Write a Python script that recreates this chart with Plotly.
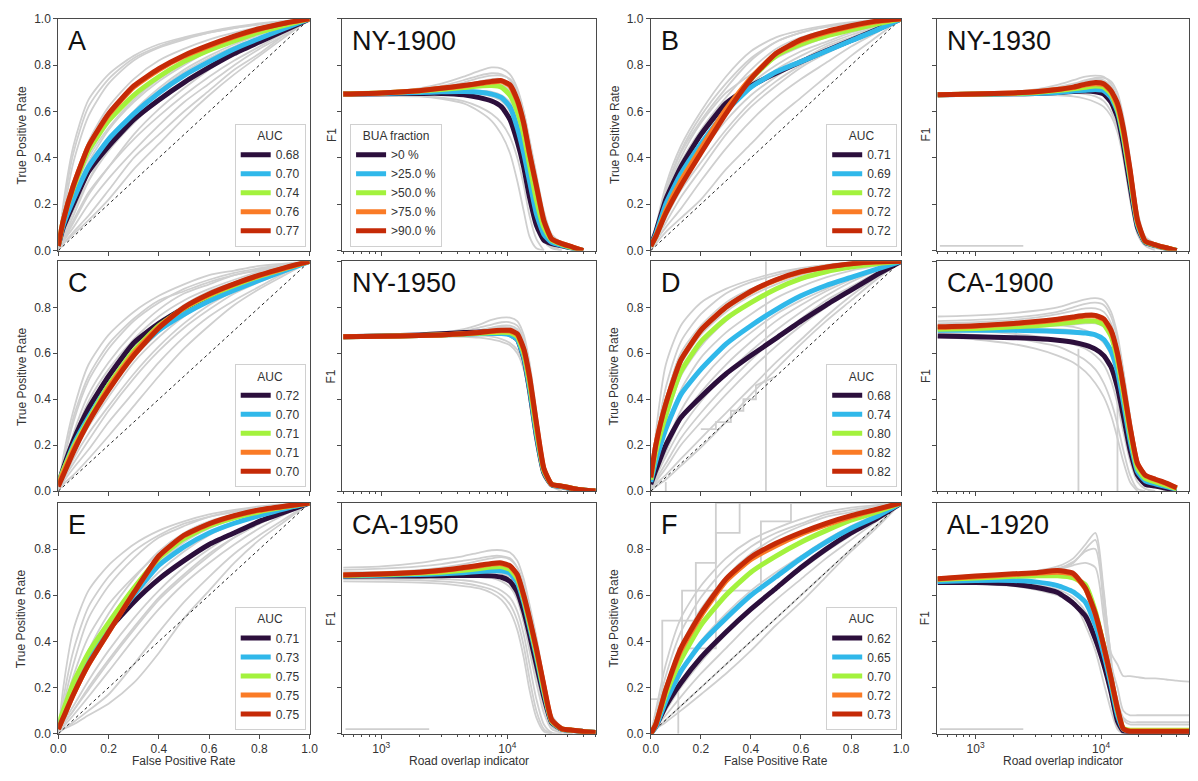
import plotly.graph_objects as go

W, H = 1198, 781

# ---------------- shared grids / labels ----------------
ROC_FPR = [0, 0.02, 0.06, 0.12, 0.2, 0.3, 0.4, 0.5, 0.6, 0.7, 0.8, 0.9, 1.0]
F1_X = [500, 1000, 2000, 3000, 4500, 6000, 7500, 9000, 10500, 12000, 13500,
        15000, 17000, 19500, 22500, 27000, 33000, 40000, 52000]
DIAG = [0, 1]
BUA_LABELS = [">0 %", ">25.0 %", ">50.0 %", ">75.0 %", ">90.0 %"]
SERIES_COLORS = ["#2c0f3c", "#30b8ea", "#a3f23d", "#fa7b26", "#c52a07"]
GREY = "#cfcfcf"
ROC_XTICKS = [0, 0.2, 0.4, 0.6, 0.8, 1.0]
F1_MAJOR = [1000, 10000]
F1_MAJOR_TEXT = ["10<sup>3</sup>", "10<sup>4</sup>"]
F1_MINOR = [500, 600, 700, 800, 900, 2000, 3000, 4000, 5000, 6000, 7000, 8000, 9000,
            20000, 30000, 40000, 50000]
ART_X = [520, 2400]
ART_Y = [0.02, 0.02]

# ---------------- Panel A (ROC) ----------------
A_AUC = ["0.68", "0.70", "0.74", "0.76", "0.77"]
A_PURPLE = [0.02, 0.1, 0.2, 0.34, 0.45, 0.565, 0.65, 0.725, 0.79, 0.85, 0.9, 0.95, 1.0]
A_CYAN = [0.02, 0.11, 0.22, 0.36, 0.48, 0.59, 0.68, 0.755, 0.815, 0.87, 0.915, 0.958, 1.0]
A_LIME = [0.02, 0.13, 0.27, 0.43, 0.56, 0.67, 0.75, 0.815, 0.865, 0.905, 0.942, 0.972, 1.0]
A_ORANGE = [0.02, 0.13, 0.28, 0.45, 0.585, 0.705, 0.78, 0.838, 0.882, 0.922, 0.955, 0.98, 1.0]
A_RED = [0.02, 0.13, 0.28, 0.45, 0.59, 0.71, 0.785, 0.842, 0.886, 0.925, 0.957, 0.981, 1.0]
A_GREY = [
    [0, 0.2, 0.45, 0.65, 0.76, 0.84, 0.89, 0.92, 0.945, 0.965, 0.98, 0.99, 1.0],
    [0, 0.15, 0.38, 0.58, 0.72, 0.82, 0.875, 0.91, 0.94, 0.96, 0.975, 0.99, 1.0],
    [0, 0.1, 0.28, 0.47, 0.62, 0.74, 0.82, 0.87, 0.91, 0.94, 0.965, 0.985, 1.0],
    [0, 0.08, 0.22, 0.38, 0.52, 0.64, 0.73, 0.8, 0.86, 0.9, 0.94, 0.97, 1.0],
    [0, 0.06, 0.17, 0.3, 0.43, 0.55, 0.65, 0.73, 0.8, 0.86, 0.91, 0.96, 1.0],
    [0, 0.05, 0.13, 0.25, 0.36, 0.48, 0.58, 0.67, 0.75, 0.82, 0.88, 0.94, 1.0],
    [0, 0.04, 0.1, 0.2, 0.31, 0.43, 0.54, 0.64, 0.72, 0.8, 0.87, 0.93, 1.0],
    [0, 0.03, 0.08, 0.15, 0.26, 0.4, 0.5, 0.6, 0.69, 0.78, 0.85, 0.93, 1.0],
    [0, 0.03, 0.07, 0.13, 0.22, 0.35, 0.46, 0.57, 0.67, 0.76, 0.84, 0.92, 1.0],
    [0, 0.05, 0.15, 0.3, 0.46, 0.6, 0.7, 0.78, 0.84, 0.89, 0.93, 0.97, 1.0],
    [0, 0.07, 0.19, 0.34, 0.47, 0.59, 0.69, 0.77, 0.83, 0.88, 0.92, 0.96, 1.0],
    [0, 0.09, 0.24, 0.4, 0.53, 0.65, 0.74, 0.81, 0.87, 0.91, 0.95, 0.975, 1.0],
    [0, 0.04, 0.12, 0.24, 0.36, 0.5, 0.61, 0.7, 0.78, 0.85, 0.9, 0.95, 1.0],
    [0, 0.18, 0.42, 0.62, 0.74, 0.83, 0.88, 0.915, 0.94, 0.96, 0.978, 0.99, 1.0],
]

# ---------------- Panel B (ROC) ----------------
B_AUC = ["0.71", "0.69", "0.72", "0.72", "0.72"]
B_PURPLE = [0.02, 0.08, 0.22, 0.36, 0.5, 0.635, 0.71, 0.765, 0.815, 0.862, 0.907, 0.952, 1.0]
B_CYAN = [0.02, 0.07, 0.2, 0.33, 0.46, 0.6, 0.705, 0.77, 0.815, 0.86, 0.905, 0.95, 1.0]
B_LIME = [0.02, 0.06, 0.17, 0.3, 0.44, 0.6, 0.74, 0.84, 0.89, 0.925, 0.952, 0.977, 1.0]
B_ORANGE = [0.02, 0.06, 0.17, 0.3, 0.44, 0.61, 0.745, 0.85, 0.905, 0.94, 0.967, 0.987, 1.0]
B_RED = [0.02, 0.06, 0.16, 0.28, 0.42, 0.59, 0.74, 0.85, 0.91, 0.945, 0.97, 0.99, 1.0]
B_GREY = [
    [0, 0.1, 0.28, 0.45, 0.6, 0.75, 0.86, 0.92, 0.95, 0.97, 0.985, 0.995, 1.0],
    [0, 0.09, 0.25, 0.42, 0.56, 0.7, 0.82, 0.9, 0.94, 0.965, 0.98, 0.99, 1.0],
    [0, 0.08, 0.23, 0.38, 0.52, 0.66, 0.78, 0.87, 0.92, 0.95, 0.97, 0.985, 1.0],
    [0, 0.07, 0.2, 0.35, 0.49, 0.62, 0.72, 0.8, 0.86, 0.9, 0.94, 0.97, 1.0],
    [0, 0.06, 0.16, 0.29, 0.42, 0.56, 0.67, 0.75, 0.82, 0.88, 0.92, 0.96, 1.0],
    [0, 0.05, 0.12, 0.23, 0.35, 0.5, 0.62, 0.71, 0.79, 0.85, 0.9, 0.95, 1.0],
    [0, 0.04, 0.1, 0.18, 0.3, 0.44, 0.56, 0.66, 0.74, 0.81, 0.88, 0.94, 1.0],
    [0, 0.03, 0.08, 0.14, 0.22, 0.35, 0.46, 0.57, 0.66, 0.75, 0.84, 0.92, 1.0],
    [0, 0.08, 0.24, 0.4, 0.55, 0.68, 0.76, 0.83, 0.88, 0.92, 0.95, 0.98, 1.0],
    [0, 0.09, 0.26, 0.43, 0.58, 0.72, 0.83, 0.9, 0.94, 0.965, 0.98, 0.99, 1.0],
    [0, 0.06, 0.18, 0.32, 0.46, 0.6, 0.7, 0.78, 0.84, 0.89, 0.93, 0.965, 1.0],
    [0, 0.05, 0.14, 0.26, 0.38, 0.52, 0.64, 0.73, 0.8, 0.86, 0.91, 0.955, 1.0],
]

# ---------------- Panel C (ROC) ----------------
C_AUC = ["0.72", "0.70", "0.71", "0.71", "0.70"]
C_PURPLE = [0.03, 0.1, 0.22, 0.36, 0.5, 0.645, 0.73, 0.795, 0.847, 0.89, 0.93, 0.965, 1.0]
C_CYAN = [0.03, 0.09, 0.2, 0.32, 0.46, 0.6, 0.7, 0.77, 0.828, 0.875, 0.918, 0.96, 1.0]
C_LIME = [0.03, 0.09, 0.19, 0.31, 0.46, 0.61, 0.72, 0.795, 0.85, 0.895, 0.935, 0.968, 1.0]
C_ORANGE = [0.03, 0.08, 0.18, 0.3, 0.45, 0.6, 0.715, 0.798, 0.855, 0.9, 0.938, 0.97, 1.0]
C_RED = [0.02, 0.07, 0.17, 0.3, 0.44, 0.59, 0.71, 0.8, 0.858, 0.902, 0.94, 0.972, 1.0]
C_GREY = [
    [0, 0.15, 0.35, 0.55, 0.68, 0.78, 0.85, 0.9, 0.94, 0.96, 0.98, 0.99, 1.0],
    [0, 0.12, 0.3, 0.48, 0.62, 0.74, 0.82, 0.88, 0.92, 0.95, 0.97, 0.985, 1.0],
    [0, 0.1, 0.25, 0.42, 0.56, 0.69, 0.79, 0.86, 0.9, 0.94, 0.96, 0.98, 1.0],
    [0, 0.08, 0.2, 0.34, 0.48, 0.62, 0.73, 0.81, 0.87, 0.91, 0.95, 0.975, 1.0],
    [0, 0.06, 0.16, 0.28, 0.41, 0.56, 0.67, 0.76, 0.83, 0.88, 0.93, 0.965, 1.0],
    [0, 0.05, 0.12, 0.22, 0.35, 0.49, 0.61, 0.71, 0.79, 0.86, 0.91, 0.955, 1.0],
    [0, 0.04, 0.1, 0.18, 0.3, 0.43, 0.56, 0.67, 0.76, 0.83, 0.89, 0.95, 1.0],
    [0, 0.03, 0.07, 0.14, 0.24, 0.37, 0.5, 0.62, 0.72, 0.81, 0.88, 0.94, 1.0],
    [0, 0.12, 0.32, 0.5, 0.64, 0.75, 0.83, 0.87, 0.91, 0.94, 0.965, 0.985, 1.0],
    [0, 0.09, 0.23, 0.39, 0.53, 0.66, 0.76, 0.83, 0.88, 0.92, 0.955, 0.98, 1.0],
    [0, 0.07, 0.18, 0.31, 0.44, 0.58, 0.69, 0.78, 0.85, 0.9, 0.94, 0.97, 1.0],
    [0, 0.05, 0.14, 0.25, 0.37, 0.51, 0.63, 0.73, 0.81, 0.87, 0.92, 0.96, 1.0],
]

# ---------------- Panel D (ROC) ----------------
D_AUC = ["0.68", "0.74", "0.80", "0.82", "0.82"]
D_PURPLE = [0.03, 0.09, 0.2, 0.32, 0.41, 0.51, 0.59, 0.665, 0.74, 0.81, 0.875, 0.94, 1.0]
D_CYAN = [0.04, 0.13, 0.27, 0.42, 0.53, 0.64, 0.72, 0.79, 0.85, 0.895, 0.93, 0.965, 1.0]
D_LIME = [0.05, 0.17, 0.33, 0.52, 0.65, 0.75, 0.82, 0.88, 0.925, 0.955, 0.975, 0.99, 1.0]
D_ORANGE = [0.06, 0.2, 0.38, 0.57, 0.7, 0.8, 0.868, 0.918, 0.953, 0.974, 0.989, 0.997, 1.0]
D_RED = [0.06, 0.2, 0.38, 0.57, 0.7, 0.8, 0.87, 0.92, 0.955, 0.975, 0.99, 0.998, 1.0]
D_GREY = [
    [0, 0.25, 0.55, 0.72, 0.82, 0.88, 0.92, 0.95, 0.97, 0.985, 0.995, 1.0, 1.0],
    [0, 0.2, 0.45, 0.65, 0.77, 0.86, 0.91, 0.94, 0.965, 0.98, 0.99, 1.0, 1.0],
    [0, 0.15, 0.35, 0.55, 0.68, 0.78, 0.85, 0.9, 0.94, 0.97, 0.985, 0.995, 1.0],
    [0, 0.1, 0.26, 0.44, 0.58, 0.69, 0.77, 0.84, 0.89, 0.93, 0.96, 0.98, 1.0],
    [0, 0.08, 0.2, 0.35, 0.48, 0.6, 0.69, 0.77, 0.83, 0.88, 0.93, 0.97, 1.0],
    [0, 0.06, 0.15, 0.27, 0.39, 0.51, 0.61, 0.7, 0.78, 0.85, 0.91, 0.96, 1.0],
    [0, 0.04, 0.1, 0.2, 0.3, 0.42, 0.53, 0.63, 0.72, 0.8, 0.87, 0.94, 1.0],
    [0, 0.03, 0.07, 0.14, 0.23, 0.34, 0.45, 0.56, 0.66, 0.76, 0.85, 0.93, 1.0],
    [0, 0.02, 0.05, 0.11, 0.19, 0.3, 0.42, 0.53, 0.64, 0.74, 0.83, 0.92, 1.0],
    [0, 0.12, 0.3, 0.5, 0.63, 0.74, 0.82, 0.88, 0.92, 0.95, 0.975, 0.99, 1.0],
    [0, 0.18, 0.4, 0.6, 0.72, 0.82, 0.88, 0.92, 0.955, 0.975, 0.99, 1.0, 1.0],
    [0, 0.07, 0.17, 0.31, 0.43, 0.55, 0.65, 0.74, 0.81, 0.87, 0.92, 0.965, 1.0],
    [0, 0.05, 0.12, 0.23, 0.34, 0.46, 0.57, 0.67, 0.75, 0.83, 0.89, 0.95, 1.0],
]
D_STEP_X = [0.06, 0.06, None, 0.46, 0.46]
D_STEP_Y = [0.0, 0.04, None, 0.0, 1.0]
D_STAIR_X = [0.2, 0.26, 0.26, 0.32, 0.32, 0.37, 0.37, 0.42, 0.42, 0.5]
D_STAIR_Y = [0.27, 0.27, 0.3, 0.3, 0.35, 0.35, 0.4, 0.4, 0.46, 0.5]

# ---------------- Panel E (ROC) ----------------
E_AUC = ["0.71", "0.73", "0.75", "0.75", "0.75"]
E_PURPLE = [0.02, 0.08, 0.19, 0.32, 0.45, 0.57, 0.67, 0.75, 0.82, 0.87, 0.92, 0.96, 1.0]
E_CYAN = [0.03, 0.09, 0.2, 0.33, 0.46, 0.6, 0.73, 0.81, 0.87, 0.912, 0.945, 0.975, 1.0]
E_LIME = [0.04, 0.1, 0.22, 0.35, 0.48, 0.63, 0.76, 0.845, 0.9, 0.935, 0.962, 0.982, 1.0]
E_ORANGE = [0.02, 0.07, 0.17, 0.3, 0.44, 0.61, 0.768, 0.858, 0.908, 0.943, 0.968, 0.985, 1.0]
E_RED = [0.02, 0.07, 0.17, 0.3, 0.44, 0.61, 0.77, 0.86, 0.91, 0.945, 0.97, 0.986, 1.0]
E_GREY = [
    [0, 0.2, 0.45, 0.62, 0.73, 0.82, 0.88, 0.92, 0.95, 0.97, 0.985, 0.995, 1.0],
    [0, 0.12, 0.3, 0.5, 0.64, 0.76, 0.85, 0.9, 0.94, 0.96, 0.98, 0.99, 1.0],
    [0, 0.08, 0.2, 0.36, 0.52, 0.67, 0.79, 0.87, 0.92, 0.95, 0.97, 0.985, 1.0],
    [0, 0.06, 0.16, 0.3, 0.44, 0.58, 0.7, 0.79, 0.86, 0.91, 0.95, 0.975, 1.0],
    [0, 0.05, 0.12, 0.23, 0.36, 0.5, 0.62, 0.72, 0.8, 0.87, 0.92, 0.96, 1.0],
    [0, 0.03, 0.08, 0.16, 0.27, 0.41, 0.54, 0.65, 0.74, 0.82, 0.89, 0.95, 1.0],
    [0, 0.02, 0.05, 0.1, 0.17, 0.3, 0.44, 0.57, 0.68, 0.78, 0.86, 0.93, 1.0],
    [0, 0.02, 0.04, 0.08, 0.13, 0.22, 0.35, 0.5, 0.62, 0.74, 0.84, 0.92, 1.0],
    [0, 0.1, 0.25, 0.42, 0.56, 0.68, 0.78, 0.85, 0.9, 0.94, 0.97, 0.985, 1.0],
    [0, 0.04, 0.1, 0.2, 0.32, 0.46, 0.59, 0.69, 0.78, 0.85, 0.91, 0.96, 1.0],
    [0, 0.07, 0.18, 0.33, 0.48, 0.62, 0.74, 0.83, 0.89, 0.93, 0.96, 0.98, 1.0],
    [0, 0.04, 0.1, 0.19, 0.31, 0.45, 0.58, 0.68, 0.77, 0.85, 0.91, 0.96, 1.0],
    [0, 0.15, 0.36, 0.55, 0.68, 0.79, 0.86, 0.91, 0.94, 0.965, 0.98, 0.99, 1.0],
]

# ---------------- Panel F (ROC) ----------------
F_AUC = ["0.62", "0.65", "0.70", "0.72", "0.73"]
F_PURPLE = [0.0, 0.03, 0.12, 0.22, 0.33, 0.44, 0.54, 0.63, 0.72, 0.8, 0.87, 0.93, 1.0]
F_CYAN = [0.0, 0.03, 0.14, 0.27, 0.39, 0.5, 0.6, 0.68, 0.76, 0.83, 0.89, 0.94, 1.0]
F_LIME = [0.0, 0.04, 0.17, 0.32, 0.47, 0.6, 0.7, 0.77, 0.83, 0.88, 0.925, 0.96, 1.0]
F_ORANGE = [0.0, 0.04, 0.19, 0.36, 0.51, 0.66, 0.755, 0.815, 0.865, 0.905, 0.94, 0.97, 1.0]
F_RED = [0.0, 0.04, 0.19, 0.37, 0.52, 0.67, 0.765, 0.825, 0.872, 0.912, 0.945, 0.972, 1.0]
F_GREY = [
    [0, 0.1, 0.3, 0.5, 0.64, 0.76, 0.84, 0.89, 0.93, 0.96, 0.98, 0.99, 1.0],
    [0, 0.06, 0.2, 0.38, 0.54, 0.68, 0.78, 0.85, 0.9, 0.94, 0.96, 0.98, 1.0],
    [0, 0.04, 0.14, 0.27, 0.4, 0.52, 0.62, 0.7, 0.77, 0.84, 0.9, 0.95, 1.0],
    [0, 0.03, 0.08, 0.16, 0.26, 0.37, 0.48, 0.58, 0.67, 0.76, 0.84, 0.92, 1.0],
    [0, 0.02, 0.06, 0.12, 0.2, 0.3, 0.4, 0.5, 0.6, 0.7, 0.8, 0.9, 1.0],
    [0, 0.02, 0.05, 0.1, 0.17, 0.26, 0.36, 0.47, 0.57, 0.68, 0.79, 0.89, 1.0],
    [0, 0.08, 0.25, 0.44, 0.59, 0.72, 0.81, 0.87, 0.91, 0.95, 0.97, 0.985, 1.0],
    [0, 0.03, 0.1, 0.2, 0.31, 0.43, 0.54, 0.63, 0.71, 0.79, 0.86, 0.93, 1.0],
]
F_STEP1_X = [0, 0.046, 0.046, 0.18, 0.18, 0.26, 0.26, 1.0]
F_STEP1_Y = [0.15, 0.15, 0.49, 0.49, 0.74, 0.74, 1.0, 1.0]
F_STEP2_X = [0.11, 0.11, 0.26, 0.26, 0.355, 0.355, 1.0]
F_STEP2_Y = [0.0, 0.37, 0.37, 0.87, 0.87, 1.0, 1.0]
F_STEP3_X = [0.125, 0.125, 0.44, 0.44, 0.56, 0.56, 1.0]
F_STEP3_Y = [0.31, 0.62, 0.62, 0.92, 0.92, 1.0, 1.0]

# ---------------- NY-1900 (F1) ----------------
NY1900_PURPLE = [0.675, 0.677, 0.678, 0.678, 0.672, 0.66, 0.645, 0.62, 0.565, 0.47, 0.36, 0.23, 0.11, 0.045, 0.03, 0.02, 0.01, 0.0, None]
NY1900_CYAN = [0.675, 0.678, 0.682, 0.685, 0.686, 0.683, 0.675, 0.66, 0.62, 0.53, 0.42, 0.3, 0.16, 0.07, 0.035, 0.022, 0.01, 0.0, None]
NY1900_LIME = [0.675, 0.68, 0.688, 0.695, 0.703, 0.71, 0.712, 0.705, 0.67, 0.6, 0.5, 0.37, 0.22, 0.1, 0.045, 0.027, 0.012, 0.0, None]
NY1900_ORANGE = [0.675, 0.68, 0.69, 0.70, 0.71, 0.72, 0.727, 0.73, 0.71, 0.645, 0.545, 0.415, 0.275, 0.125, 0.05, 0.03, 0.015, 0.0, None]
NY1900_RED = [0.675, 0.68, 0.69, 0.70, 0.712, 0.722, 0.73, 0.733, 0.715, 0.65, 0.55, 0.42, 0.28, 0.13, 0.05, 0.03, 0.015, 0.0, None]
NY1900_GREY = [
    [0.68, 0.685, 0.7, 0.72, 0.75, 0.775, 0.79, 0.785, 0.76, 0.7, 0.6, 0.47, 0.32, 0.16, 0.06, 0.03, 0.01, 0.0, None],
    [0.675, 0.68, 0.695, 0.71, 0.735, 0.755, 0.765, 0.76, 0.735, 0.67, 0.57, 0.44, 0.29, 0.13, 0.05, 0.03, 0.01, 0.0, None],
    [0.67, 0.672, 0.675, 0.678, 0.68, 0.675, 0.665, 0.645, 0.6, 0.52, 0.4, 0.27, 0.13, 0.04, 0.01, 0.0, None, None, None],
    [0.67, 0.67, 0.668, 0.66, 0.645, 0.62, 0.59, 0.55, 0.49, 0.4, 0.28, 0.15, 0.05, 0.0, None, None, None, None, None],
    [0.672, 0.675, 0.68, 0.685, 0.69, 0.69, 0.685, 0.67, 0.64, 0.57, 0.46, 0.33, 0.18, 0.06, 0.02, 0.0, None, None, None],
    [0.675, 0.678, 0.685, 0.695, 0.705, 0.715, 0.72, 0.715, 0.69, 0.63, 0.53, 0.4, 0.24, 0.1, 0.04, 0.02, 0.01, 0.0, None],
    [0.668, 0.668, 0.665, 0.655, 0.635, 0.6, 0.56, 0.5, 0.42, 0.3, 0.17, 0.06, 0.01, 0.0, None, None, None, None, None],
    [0.678, 0.682, 0.69, 0.705, 0.725, 0.745, 0.755, 0.755, 0.74, 0.69, 0.6, 0.48, 0.33, 0.17, 0.07, 0.035, 0.015, 0.0, None],
    [0.674, 0.678, 0.688, 0.7, 0.715, 0.73, 0.74, 0.74, 0.72, 0.66, 0.56, 0.43, 0.28, 0.12, 0.045, 0.025, 0.01, 0.0, None],
    [0.672, 0.674, 0.678, 0.682, 0.685, 0.68, 0.67, 0.65, 0.61, 0.54, 0.43, 0.3, 0.15, 0.05, 0.015, 0.0, None, None, None],
]

# ---------------- NY-1930 (F1) ----------------
NY1930_PURPLE = [0.672, 0.674, 0.676, 0.678, 0.682, 0.686, 0.688, 0.685, 0.675, 0.64, 0.575, 0.46, 0.28, 0.1, 0.034, 0.022, 0.01, 0.0, None]
NY1930_CYAN = [0.672, 0.674, 0.676, 0.678, 0.682, 0.688, 0.692, 0.695, 0.69, 0.66, 0.6, 0.49, 0.31, 0.11, 0.036, 0.023, 0.01, 0.0, None]
NY1930_LIME = [0.672, 0.675, 0.678, 0.682, 0.69, 0.698, 0.705, 0.71, 0.705, 0.675, 0.61, 0.5, 0.32, 0.12, 0.038, 0.024, 0.011, 0.0, None]
NY1930_ORANGE = [0.672, 0.675, 0.68, 0.685, 0.695, 0.703, 0.715, 0.72, 0.715, 0.685, 0.625, 0.52, 0.34, 0.125, 0.04, 0.025, 0.012, 0.0, None]
NY1930_RED = [0.672, 0.675, 0.68, 0.685, 0.695, 0.705, 0.718, 0.725, 0.72, 0.69, 0.635, 0.53, 0.35, 0.13, 0.04, 0.025, 0.012, 0.0, None]
NY1930_GREY = [
    [0.672, 0.676, 0.685, 0.695, 0.715, 0.735, 0.75, 0.755, 0.75, 0.72, 0.66, 0.55, 0.37, 0.15, 0.05, 0.03, 0.01, 0.0, None],
    [0.672, 0.675, 0.68, 0.688, 0.7, 0.715, 0.73, 0.74, 0.735, 0.71, 0.65, 0.54, 0.35, 0.13, 0.04, 0.02, 0.01, 0.0, None],
    [0.67, 0.672, 0.675, 0.678, 0.68, 0.68, 0.675, 0.665, 0.645, 0.6, 0.53, 0.41, 0.24, 0.08, 0.025, 0.01, 0.0, None, None],
    [0.67, 0.672, 0.675, 0.68, 0.688, 0.695, 0.7, 0.7, 0.69, 0.66, 0.6, 0.49, 0.31, 0.11, 0.03, 0.015, 0.0, None, None],
    [0.673, 0.676, 0.682, 0.69, 0.705, 0.72, 0.735, 0.745, 0.745, 0.73, 0.68, 0.58, 0.4, 0.17, 0.06, 0.03, 0.012, 0.0, None],
    [0.67, 0.671, 0.672, 0.672, 0.67, 0.665, 0.655, 0.64, 0.62, 0.58, 0.51, 0.4, 0.22, 0.07, 0.02, 0.0, None, None, None],
    [0.671, 0.673, 0.678, 0.684, 0.694, 0.705, 0.715, 0.72, 0.715, 0.69, 0.63, 0.52, 0.33, 0.12, 0.035, 0.02, 0.008, 0.0, None],
]

# ---------------- NY-1950 (F1) ----------------
NY1950_PURPLE = [0.672, 0.675, 0.68, 0.685, 0.69, 0.693, 0.693, 0.69, 0.682, 0.66, 0.58, 0.44, 0.24, 0.08, 0.027, 0.02, 0.011, 0.005, 0.0]
NY1950_CYAN = [0.672, 0.674, 0.677, 0.68, 0.683, 0.685, 0.686, 0.686, 0.68, 0.66, 0.585, 0.45, 0.25, 0.085, 0.028, 0.02, 0.011, 0.005, 0.0]
NY1950_LIME = [0.672, 0.674, 0.677, 0.68, 0.684, 0.687, 0.69, 0.692, 0.69, 0.672, 0.6, 0.47, 0.27, 0.09, 0.03, 0.022, 0.012, 0.005, 0.0]
NY1950_ORANGE = [0.672, 0.674, 0.677, 0.68, 0.685, 0.69, 0.695, 0.698, 0.697, 0.68, 0.615, 0.49, 0.29, 0.095, 0.03, 0.022, 0.012, 0.005, 0.0]
NY1950_RED = [0.672, 0.674, 0.677, 0.68, 0.685, 0.69, 0.697, 0.7, 0.7, 0.685, 0.62, 0.5, 0.3, 0.1, 0.03, 0.022, 0.012, 0.005, 0.0]
NY1950_GREY = [
    [0.672, 0.676, 0.682, 0.69, 0.705, 0.725, 0.745, 0.755, 0.755, 0.74, 0.68, 0.56, 0.35, 0.12, 0.035, 0.02, 0.01, 0.0, None],
    [0.672, 0.675, 0.68, 0.686, 0.698, 0.712, 0.725, 0.735, 0.735, 0.72, 0.66, 0.54, 0.33, 0.11, 0.03, 0.02, 0.01, 0.0, None],
    [0.67, 0.672, 0.675, 0.678, 0.68, 0.678, 0.672, 0.662, 0.645, 0.615, 0.55, 0.43, 0.24, 0.07, 0.02, 0.01, 0.0, None, None],
    [0.67, 0.671, 0.672, 0.673, 0.672, 0.668, 0.66, 0.65, 0.635, 0.6, 0.53, 0.41, 0.22, 0.06, 0.02, 0.0, None, None, None],
    [0.673, 0.676, 0.68, 0.685, 0.692, 0.7, 0.71, 0.715, 0.712, 0.7, 0.64, 0.52, 0.31, 0.1, 0.03, 0.02, 0.01, 0.0, None],
    [0.671, 0.673, 0.676, 0.68, 0.685, 0.69, 0.695, 0.698, 0.695, 0.68, 0.62, 0.5, 0.29, 0.09, 0.03, 0.015, 0.005, 0.0, None],
    [0.671, 0.673, 0.677, 0.682, 0.69, 0.7, 0.712, 0.72, 0.72, 0.705, 0.645, 0.53, 0.32, 0.1, 0.03, 0.02, 0.01, 0.0, None],
]

# ---------------- CA-1900 (F1) ----------------
CA1900_PURPLE = [0.675, 0.672, 0.668, 0.664, 0.657, 0.648, 0.635, 0.618, 0.59, 0.54, 0.45, 0.33, 0.18, 0.07, 0.03, 0.022, 0.013, 0.005, None]
CA1900_CYAN = [0.70, 0.70, 0.70, 0.698, 0.695, 0.692, 0.688, 0.68, 0.66, 0.61, 0.52, 0.39, 0.22, 0.085, 0.045, 0.032, 0.02, 0.008, None]
CA1900_LIME = [0.705, 0.708, 0.715, 0.72, 0.728, 0.735, 0.74, 0.74, 0.725, 0.675, 0.57, 0.43, 0.25, 0.1, 0.055, 0.04, 0.025, 0.01, None]
CA1900_ORANGE = [0.713, 0.718, 0.728, 0.735, 0.745, 0.755, 0.762, 0.762, 0.746, 0.695, 0.595, 0.455, 0.275, 0.118, 0.068, 0.05, 0.033, 0.014, None]
CA1900_RED = [0.715, 0.72, 0.73, 0.738, 0.748, 0.758, 0.765, 0.765, 0.75, 0.7, 0.6, 0.46, 0.28, 0.12, 0.07, 0.052, 0.035, 0.015, None]
CA1900_GREY = [
    [0.76, 0.765, 0.775, 0.785, 0.8, 0.82, 0.835, 0.84, 0.83, 0.78, 0.68, 0.53, 0.33, 0.14, 0.05, 0.02, 0.01, 0.0, None],
    [0.74, 0.745, 0.755, 0.765, 0.78, 0.8, 0.815, 0.82, 0.81, 0.76, 0.66, 0.52, 0.32, 0.14, 0.06, 0.03, 0.01, 0.0, None],
    [0.72, 0.722, 0.725, 0.725, 0.722, 0.715, 0.7, 0.68, 0.65, 0.6, 0.51, 0.39, 0.24, 0.1, 0.04, 0.02, 0.0, None, None],
    [0.7, 0.695, 0.685, 0.675, 0.66, 0.64, 0.62, 0.59, 0.55, 0.48, 0.38, 0.26, 0.13, 0.04, 0.01, 0.0, None, None, None],
    [0.69, 0.68, 0.665, 0.65, 0.63, 0.6, 0.57, 0.53, 0.47, 0.39, 0.29, 0.18, 0.07, 0.01, 0.0, None, None, None, None],
    [0.67, 0.66, 0.64, 0.62, 0.59, 0.56, 0.52, 0.47, 0.41, 0.33, 0.23, 0.13, 0.04, 0.0, None, None, None, None, None],
    [0.73, 0.735, 0.745, 0.755, 0.77, 0.785, 0.795, 0.795, 0.78, 0.73, 0.63, 0.49, 0.3, 0.13, 0.06, 0.035, 0.015, 0.0, None],
    [0.705, 0.705, 0.705, 0.705, 0.705, 0.7, 0.69, 0.675, 0.645, 0.59, 0.5, 0.38, 0.22, 0.09, 0.04, 0.03, 0.02, 0.005, None],
    [0.71, 0.71, 0.712, 0.715, 0.72, 0.725, 0.73, 0.73, 0.715, 0.67, 0.57, 0.44, 0.27, 0.11, 0.05, 0.03, 0.015, 0.0, None],
]
CA1900_VLINE1_X = [6600, 6600]
CA1900_VLINE1_Y = [0.0, 0.62]
CA1900_VLINE2_X = [13500, 13500]
CA1900_VLINE2_Y = [0.0, 0.42]

# ---------------- CA-1950 (F1) ----------------
CA1950_PURPLE = [0.682, 0.683, 0.684, 0.685, 0.686, 0.686, 0.684, 0.678, 0.66, 0.615, 0.53, 0.43, 0.3, 0.16, 0.048, 0.02, 0.014, 0.01, 0.005]
CA1950_CYAN = [0.684, 0.687, 0.69, 0.693, 0.698, 0.703, 0.706, 0.706, 0.695, 0.655, 0.57, 0.465, 0.335, 0.18, 0.052, 0.02, 0.014, 0.01, 0.005]
CA1950_LIME = [0.686, 0.69, 0.695, 0.7, 0.708, 0.716, 0.722, 0.724, 0.712, 0.672, 0.585, 0.48, 0.35, 0.19, 0.055, 0.021, 0.015, 0.01, 0.005]
CA1950_ORANGE = [0.688, 0.692, 0.699, 0.706, 0.718, 0.727, 0.735, 0.737, 0.725, 0.685, 0.595, 0.495, 0.365, 0.205, 0.058, 0.022, 0.015, 0.01, 0.005]
CA1950_RED = [0.688, 0.692, 0.70, 0.708, 0.72, 0.73, 0.738, 0.74, 0.728, 0.69, 0.6, 0.5, 0.37, 0.21, 0.06, 0.022, 0.015, 0.01, 0.005]
CA1950_GREY = [
    [0.72, 0.725, 0.74, 0.755, 0.77, 0.785, 0.795, 0.795, 0.785, 0.75, 0.67, 0.56, 0.42, 0.24, 0.08, 0.03, 0.015, 0.01, None],
    [0.71, 0.715, 0.725, 0.735, 0.75, 0.76, 0.77, 0.77, 0.76, 0.72, 0.64, 0.53, 0.39, 0.22, 0.07, 0.025, 0.01, 0.0, None],
    [0.7, 0.7, 0.705, 0.708, 0.71, 0.71, 0.705, 0.695, 0.67, 0.62, 0.52, 0.39, 0.25, 0.12, 0.03, 0.01, 0.0, None, None],
    [0.68, 0.678, 0.675, 0.67, 0.665, 0.655, 0.64, 0.62, 0.59, 0.53, 0.43, 0.3, 0.15, 0.04, 0.005, 0.0, None, None, None],
    [0.67, 0.668, 0.665, 0.66, 0.652, 0.64, 0.625, 0.6, 0.56, 0.49, 0.38, 0.24, 0.1, 0.02, 0.0, None, None, None, None],
    [0.66, 0.658, 0.655, 0.65, 0.64, 0.63, 0.61, 0.58, 0.53, 0.45, 0.33, 0.19, 0.07, 0.01, 0.0, None, None, None, None],
    [0.695, 0.7, 0.71, 0.72, 0.735, 0.75, 0.76, 0.765, 0.755, 0.72, 0.645, 0.54, 0.4, 0.23, 0.07, 0.02, 0.01, 0.0, None],
    [0.69, 0.69, 0.69, 0.69, 0.69, 0.685, 0.675, 0.66, 0.635, 0.58, 0.48, 0.36, 0.22, 0.09, 0.02, 0.005, 0.0, None, None],
    [0.685, 0.686, 0.688, 0.69, 0.695, 0.7, 0.7, 0.695, 0.68, 0.64, 0.56, 0.45, 0.32, 0.17, 0.05, 0.02, 0.01, 0.0, None],
]

# ---------------- AL-1920 (F1) ----------------
AL1920_PURPLE = [0.655, 0.655, 0.648, 0.635, 0.612, 0.565, 0.51, 0.41, 0.3, 0.18, 0.055, 0.012, 0.01, 0.01, 0.01, 0.01, 0.01, 0.01, 0.01]
AL1920_CYAN = [0.66, 0.664, 0.664, 0.658, 0.642, 0.615, 0.57, 0.47, 0.345, 0.21, 0.08, 0.02, 0.012, 0.012, 0.012, 0.012, 0.012, 0.012, 0.012]
AL1920_LIME = [0.668, 0.675, 0.682, 0.684, 0.684, 0.675, 0.645, 0.53, 0.38, 0.235, 0.1, 0.025, 0.015, 0.015, 0.015, 0.015, 0.015, 0.015, 0.015]
AL1920_ORANGE = [0.67, 0.68, 0.69, 0.695, 0.7, 0.69, 0.628, 0.518, 0.378, 0.238, 0.108, 0.022, 0.012, 0.012, 0.012, 0.012, 0.012, 0.012, 0.012]
AL1920_RED = [0.672, 0.683, 0.693, 0.698, 0.707, 0.695, 0.63, 0.52, 0.38, 0.24, 0.11, 0.022, 0.01, 0.01, 0.01, 0.01, 0.01, 0.01, 0.01]
AL1920_GREY = [
    [0.675, 0.685, 0.695, 0.705, 0.725, 0.76, 0.82, 0.87, 0.62, 0.35, 0.3, 0.25, 0.25, 0.245, 0.24, 0.24, 0.235, 0.23, 0.225],
    [0.67, 0.678, 0.688, 0.698, 0.715, 0.745, 0.79, 0.8, 0.55, 0.3, 0.2, 0.1, 0.08, 0.08, 0.08, 0.08, 0.08, 0.08, 0.08],
    [0.668, 0.675, 0.685, 0.695, 0.71, 0.73, 0.74, 0.72, 0.5, 0.28, 0.15, 0.07, 0.05, 0.05, 0.05, 0.05, 0.05, 0.05, 0.05],
    [0.66, 0.66, 0.655, 0.645, 0.625, 0.59, 0.53, 0.44, 0.32, 0.18, 0.05, 0.0, None, None, None, None, None, None, None],
    [0.655, 0.65, 0.64, 0.625, 0.6, 0.56, 0.5, 0.41, 0.29, 0.15, 0.03, 0.0, None, None, None, None, None, None, None],
    [0.66, 0.658, 0.65, 0.64, 0.615, 0.575, 0.47, 0.36, 0.22, 0.1, 0.02, 0.0, None, None, None, None, None, None, None],
    [0.672, 0.68, 0.69, 0.7, 0.715, 0.74, 0.8, 0.84, 0.6, 0.33, 0.12, 0.06, 0.04, 0.04, 0.04, 0.04, 0.04, 0.04, 0.04],
]

# ---------------- layout geometry (pixels) ----------------
COLS = [(51, 306), (339, 596), (652, 906), (942, 1198)]
ROWS = [(12, 248), (259, 493), (505, 740)]
FONT = "Liberation Sans, Arial, sans-serif"
AX_COLOR = "#4a4a4a"
TXT_COLOR = "#333333"

fig = go.Figure()
annotations = []
layout = {}


def axis_ids(n):
    return ("x" if n == 1 else f"x{n}", "y" if n == 1 else f"y{n}",
            "xaxis" if n == 1 else f"xaxis{n}", "yaxis" if n == 1 else f"yaxis{n}")


def base_axis():
    return dict(showline=True, mirror=True, linecolor=AX_COLOR, linewidth=1,
                ticks="outside", ticklen=4, tickwidth=1, tickcolor=AX_COLOR,
                showgrid=False, zeroline=False,
                tickfont=dict(family=FONT, size=12, color=TXT_COLOR))


def grey_line(x, y, xa, ya, shape="spline"):
    fig.add_trace(go.Scatter(x=x, y=y, mode="lines", xaxis=xa, yaxis=ya,
                             line=dict(color=GREY, width=1.8, shape=shape, smoothing=0.7),
                             showlegend=False, hoverinfo="skip"))


def add_panel(row, col, kind, title, colored, greys, names=None, legend_id=None,
              extra=(), artifact=False):
    n = row * 4 + col + 1
    xa, ya, xk, yk = axis_ids(n)
    l, r = COLS[col]
    t, b = ROWS[row]
    xax = base_axis()
    yax = base_axis()
    xax["domain"] = [l / W, min(r / W, 1.0)]
    yax["domain"] = [1 - b / H, 1 - t / H]
    xax["anchor"] = ya
    yax["anchor"] = xa
    if kind == "roc":
        xs = ROC_FPR
        xax.update(range=[0, 1], tickvals=ROC_XTICKS, tickformat=".1f",
                   showticklabels=(row == 2))
        yvals = ROC_XTICKS if row == 0 else ROC_XTICKS[:-1]
        yax.update(range=[0, 1], tickvals=yvals, tickformat=".1f")
    else:
        xs = F1_X
        xax.update(type="log", range=[2.69, 4.70], tickvals=F1_MAJOR,
                   ticktext=F1_MAJOR_TEXT, showticklabels=(row == 2),
                   minor=dict(tickvals=F1_MINOR, ticks="outside", ticklen=2,
                              tickcolor=AX_COLOR))
        yax.update(range=[0, 1], tickvals=ROC_XTICKS, showticklabels=False)
    shape = "spline"
    layout[xk] = xax
    layout[yk] = yax

    for g in greys:
        grey_line(xs, g, xa, ya, shape)
    for ex, ey in extra:
        grey_line(ex, ey, xa, ya, "linear")
    if artifact:
        grey_line(ART_X, ART_Y, xa, ya, "linear")
    if kind == "roc":
        fig.add_trace(go.Scatter(x=DIAG, y=DIAG, mode="lines", xaxis=xa, yaxis=ya,
                                 line=dict(color="#222222", width=1, dash="dot"),
                                 showlegend=False, hoverinfo="skip"))
    for i, c in enumerate(colored):
        kw = dict(showlegend=False)
        if names is not None:
            kw = dict(showlegend=True, name=names[i], legend=legend_id)
        fig.add_trace(go.Scatter(x=xs, y=c, mode="lines", xaxis=xa, yaxis=ya,
                                 line=dict(color=SERIES_COLORS[i], width=5, shape=shape,
                                           smoothing=0.5),
                                 hoverinfo="skip", **kw))

    # panel title
    annotations.append(dict(text=title, x=(l + 8) / W, y=1 - (t + 5) / H,
                            xref="paper", yref="paper", xanchor="left", yanchor="top",
                            showarrow=False, font=dict(family=FONT, size=27, color="#111111")))
    ymid = 1 - (t + b) / 2 / H
    if kind == "roc":
        annotations.append(dict(text="True Positive Rate", x=(l - 37) / W, y=ymid,
                                xref="paper", yref="paper", textangle=-90,
                                xanchor="center", yanchor="middle", showarrow=False,
                                font=dict(family=FONT, size=12, color=TXT_COLOR)))
    else:
        annotations.append(dict(text="F1", x=(l - 11) / W, y=ymid,
                                xref="paper", yref="paper", textangle=-90,
                                xanchor="center", yanchor="middle", showarrow=False,
                                font=dict(family=FONT, size=12, color=TXT_COLOR)))
    if row == 2:
        label = "False Positive Rate" if kind == "roc" else "Road overlap indicator"
        annotations.append(dict(text=label, x=(l + r) / 2 / W, y=1 - 768 / H,
                                xref="paper", yref="paper", xanchor="center",
                                yanchor="middle", showarrow=False,
                                font=dict(family=FONT, size=12, color=TXT_COLOR)))
    if legend_id is not None:
        if kind == "roc":
            lx, xanc = (r - 4) / W, "right"
            ttl = "AUC"
        else:
            lx, xanc = (l + 8) / W, "left"
            ttl = "BUA fraction"
        layout[legend_id] = dict(
            x=lx, xanchor=xanc, y=1 - (b - 4) / H, yanchor="bottom",
            xref="paper", yref="paper",
            bgcolor="rgba(255,255,255,0.85)", bordercolor="#d0d0d0", borderwidth=1,
            font=dict(family=FONT, size=12, color=TXT_COLOR),
            title=dict(text=ttl, side="top center",
                       font=dict(family=FONT, size=12, color=TXT_COLOR)),
            tracegroupgap=0, itemwidth=30, traceorder="normal")


add_panel(0, 0, "roc", "A", [A_PURPLE, A_CYAN, A_LIME, A_ORANGE, A_RED], A_GREY,
          A_AUC, "legend")
add_panel(0, 1, "f1", "NY-1900",
          [NY1900_PURPLE, NY1900_CYAN, NY1900_LIME, NY1900_ORANGE, NY1900_RED],
          NY1900_GREY, BUA_LABELS, "legend2")
add_panel(0, 2, "roc", "B", [B_PURPLE, B_CYAN, B_LIME, B_ORANGE, B_RED], B_GREY,
          B_AUC, "legend3")
add_panel(0, 3, "f1", "NY-1930",
          [NY1930_PURPLE, NY1930_CYAN, NY1930_LIME, NY1930_ORANGE, NY1930_RED],
          NY1930_GREY, artifact=True)
add_panel(1, 0, "roc", "C", [C_PURPLE, C_CYAN, C_LIME, C_ORANGE, C_RED], C_GREY,
          C_AUC, "legend4")
add_panel(1, 1, "f1", "NY-1950",
          [NY1950_PURPLE, NY1950_CYAN, NY1950_LIME, NY1950_ORANGE, NY1950_RED],
          NY1950_GREY)
add_panel(1, 2, "roc", "D", [D_PURPLE, D_CYAN, D_LIME, D_ORANGE, D_RED], D_GREY,
          D_AUC, "legend5", extra=[(D_STEP_X, D_STEP_Y), (D_STAIR_X, D_STAIR_Y)])
add_panel(1, 3, "f1", "CA-1900",
          [CA1900_PURPLE, CA1900_CYAN, CA1900_LIME, CA1900_ORANGE, CA1900_RED],
          CA1900_GREY, extra=[(CA1900_VLINE1_X, CA1900_VLINE1_Y),
                              (CA1900_VLINE2_X, CA1900_VLINE2_Y)])
add_panel(2, 0, "roc", "E", [E_PURPLE, E_CYAN, E_LIME, E_ORANGE, E_RED], E_GREY,
          E_AUC, "legend6")
add_panel(2, 1, "f1", "CA-1950",
          [CA1950_PURPLE, CA1950_CYAN, CA1950_LIME, CA1950_ORANGE, CA1950_RED],
          CA1950_GREY, artifact=True)
add_panel(2, 2, "roc", "F", [F_PURPLE, F_CYAN, F_LIME, F_ORANGE, F_RED], F_GREY,
          F_AUC, "legend7", extra=[(F_STEP1_X, F_STEP1_Y), (F_STEP2_X, F_STEP2_Y),
                                   (F_STEP3_X, F_STEP3_Y)])
add_panel(2, 3, "f1", "AL-1920",
          [AL1920_PURPLE, AL1920_CYAN, AL1920_LIME, AL1920_ORANGE, AL1920_RED],
          AL1920_GREY, artifact=True)

fig.update_layout(
    width=W, height=H, autosize=False,
    margin=dict(l=0, r=0, t=0, b=0),
    paper_bgcolor="white", plot_bgcolor="white",
    font=dict(family=FONT, size=12, color=TXT_COLOR),
    annotations=annotations,
    **layout,
)

fig.write_html("out.html",
               config={"displayModeBar": False},
               post_script="document.body.style.margin='0';document.body.style.overflow='hidden';")
